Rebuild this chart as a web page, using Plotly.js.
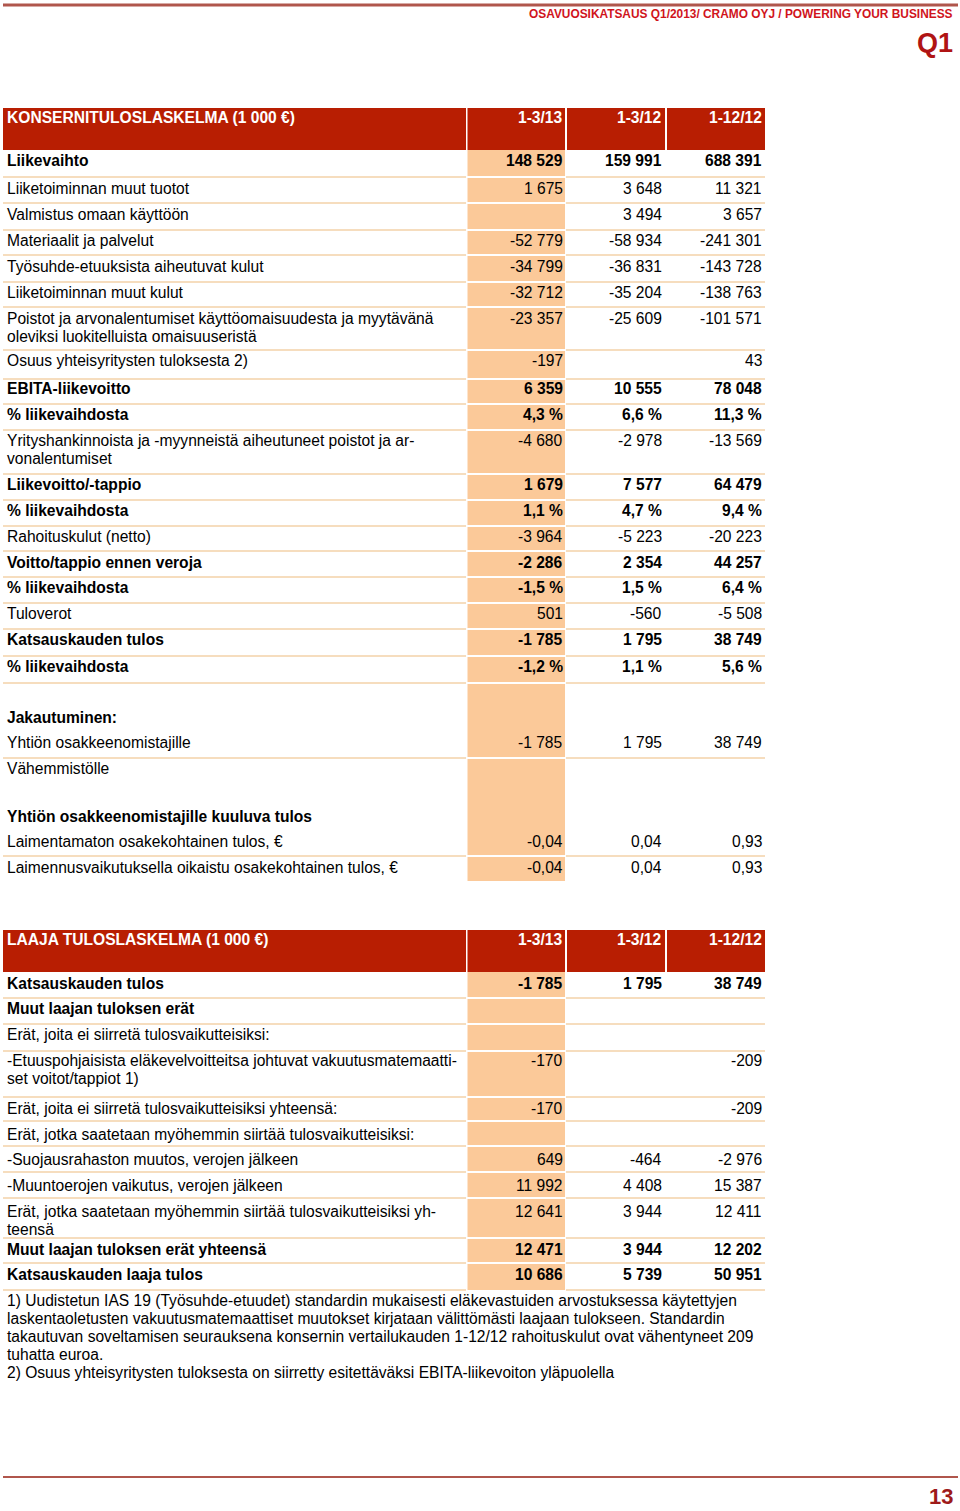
<!DOCTYPE html>
<html><head><meta charset="utf-8">
<script src="https://cdn.plot.ly/plotly-3.0.1.min.js"></script>
<style>html,body{margin:0;padding:0;background:#fff}#chart{width:960px;height:1511px}</style>
</head><body><div id="chart"></div>
<script>
// ---------- DATA ----------
const pageHeader = "OSAVUOSIKATSAUS Q1/2013/ CRAMO OYJ / POWERING YOUR BUSINESS";
const pageTag = "Q1";
const pageNumber = "13";
const header1 = "KONSERNITULOSLASKELMA (1 000 €)";
const header2 = "LAAJA TULOSLASKELMA (1 000 €)";
const periods = ["1-3/13", "1-3/12", "1-12/12"];

const t1Label = ["Liikevaihto","Liiketoiminnan muut tuotot","Valmistus omaan käyttöön","Materiaalit ja palvelut","Työsuhde-etuuksista aiheutuvat kulut","Liiketoiminnan muut kulut","Poistot ja arvonalentumiset käyttöomaisuudesta ja myytävänä","oleviksi luokitelluista omaisuuseristä","Osuus yhteisyritysten tuloksesta 2)","EBITA-liikevoitto","% liikevaihdosta","Yrityshankinnoista ja -myynneistä aiheutuneet poistot ja ar-","vonalentumiset","Liikevoitto/-tappio","% liikevaihdosta","Rahoituskulut (netto)","Voitto/tappio ennen veroja","% liikevaihdosta","Tuloverot","Katsauskauden tulos","% liikevaihdosta","Jakautuminen:","Yhtiön osakkeenomistajille","Vähemmistölle","Yhtiön osakkeenomistajille kuuluva tulos","Laimentamaton osakekohtainen tulos, €","Laimennusvaikutuksella oikaistu osakekohtainen tulos, €"];
const t1Q113 = ["148 529","1 675","","-52 779","-34 799","-32 712","-23 357","","-197","6 359","4,3 %","-4 680","","1 679","1,1 %","-3 964","-2 286","-1,5 %","501","-1 785","-1,2 %","","-1 785","","","-0,04","-0,04"];
const t1Q112 = ["159 991","3 648","3 494","-58 934","-36 831","-35 204","-25 609","","","10 555","6,6 %","-2 978","","7 577","4,7 %","-5 223","2 354","1,5 %","-560","1 795","1,1 %","","1 795","","","0,04","0,04"];
const t1FY12 = ["688 391","11 321","3 657","-241 301","-143 728","-138 763","-101 571","","43","78 048","11,3 %","-13 569","","64 479","9,4 %","-20 223","44 257","6,4 %","-5 508","38 749","5,6 %","","38 749","","","0,93","0,93"];
const t1Bold = [1,0,0,0,0,0,0,0,0,1,1,0,0,1,1,0,1,1,0,1,1,1,0,0,1,0,0];

const t2Label = ["Katsauskauden tulos","Muut laajan tuloksen erät","Erät, joita ei siirretä tulosvaikutteisiksi:","-Etuuspohjaisista eläkevelvoitteitsa johtuvat vakuutusmatemaatti-","set voitot/tappiot 1)","Erät, joita ei siirretä tulosvaikutteisiksi yhteensä:","Erät, jotka saatetaan myöhemmin siirtää tulosvaikutteisiksi:","-Suojausrahaston muutos, verojen jälkeen","-Muuntoerojen vaikutus, verojen jälkeen","Erät, jotka saatetaan myöhemmin siirtää tulosvaikutteisiksi yh-","teensä","Muut laajan tuloksen erät yhteensä","Katsauskauden laaja tulos"];
const t2Q113 = ["-1 785","","","-170","","-170","","649","11 992","12 641","","12 471","10 686"];
const t2Q112 = ["1 795","","","","","","","-464","4 408","3 944","","3 944","5 739"];
const t2FY12 = ["38 749","","","-209","","-209","","-2 976","15 387","12 411","","12 202","50 951"];
const t2Bold = [1,1,0,0,0,0,0,0,0,0,0,1,1];

const footnotes = ["1) Uudistetun IAS 19 (Työsuhde-etuudet) standardin mukaisesti eläkevastuiden arvostuksessa käytettyjen","laskentaoletusten vakuutusmatemaattiset muutokset kirjataan välittömästi laajaan tulokseen. Standardin","takautuvan soveltamisen seurauksena konsernin vertailukauden 1-12/12 rahoituskulut ovat vähentyneet 209","tuhatta euroa.","2) Osuus yhteisyritysten tuloksesta on siirretty esitettäväksi EBITA-liikevoiton yläpuolella"];

// ---------- LAYOUT (positions / styles) ----------
const RED = "#B81E02", ORANGE = "#FBC999", LINE = "#F6DDBE";
const FONT = "Liberation Sans, Arial, Helvetica, sans-serif";
const FS = 15.6;
const colRight = [563, 662, 762];
const labelX = 7;
const t1 = {top:108, head:150, bottom:881,
  lineY:[160,188,214,240,266,292,318,336,360,388,414,440,458,484,510,536,562,587,613,639,666,717,742,768,816,841,867],
  seps:[177,203,230,255,282,307,350,379,404,430,474,500,526,551,577,603,629,656,683,758,856]};
const t2 = {top:930, head:972, bottom:1290,
  lineY:[983,1008,1034,1060,1078,1108,1134,1159,1185,1211,1229,1249,1274],
  seps:[998,1024,1051,1097,1121,1146,1172,1198,1238,1263,1290]};
const footY0 = 1300, footStep = 18;
const DY = 0.5; // text vertical tweak

const shapes = [], ann = [];
function rect(x0,x1,y0,y1,color){shapes.push({type:"rect",xref:"x",yref:"y",x0,x1,y0,y1,fillcolor:color,line:{width:0},layer:"below"});}
function hline(x0,x1,y,color,w){shapes.push({type:"line",xref:"x",yref:"y",x0,x1,y0:y,y1:y,line:{color,width:w}});}
function txt(x,y,text,opt){ann.push(Object.assign({x,y:y+DY,xref:"x",yref:"y",text,showarrow:false,xanchor:"left",yanchor:"middle",borderpad:0,borderwidth:0,font:{family:FONT,size:FS,color:"#000"}},opt||{}));}

function table(t, header, labels, c1, c2, c3, bold){
  rect(3,466,t.top,t.head,RED);
  rect(467.5,565,t.top,t.head,RED);
  rect(567,665,t.top,t.head,RED);
  rect(667,765,t.top,t.head,RED);
  const hf = {family:FONT,size:FS,color:"#fff",weight:"bold"};
  txt(labelX,t.top+9,header,{font:hf});
  periods.forEach((p,i)=>txt(colRight[i],t.top+9,p,{xanchor:"right",font:hf}));
  rect(467.5,565,t.head,t.bottom,ORANGE);
  t.seps.forEach(y=>{
    hline(3,466,y,LINE,2);
    hline(566,765,y,LINE,2);
    if (y < t.bottom) hline(466,566,y,"#fff",2);
  });
  labels.forEach((lab,i)=>{
    const f = {family:FONT,size:FS,color:"#000",weight:bold[i] ? "bold" : "normal"};
    txt(labelX,t.lineY[i],lab,{font:f});
    [c1,c2,c3].forEach((col,k)=>{ if(col[i]) txt(colRight[k],t.lineY[i],col[i],{xanchor:"right",font:f}); });
  });
}
table(t1, header1, t1Label, t1Q113, t1Q112, t1FY12, t1Bold);
table(t2, header2, t2Label, t2Q113, t2Q112, t2FY12, t2Bold);
footnotes.forEach((f,i)=>txt(labelX,footY0+i*footStep,f));

// page decorations
hline(3,958,5,"#B0564C",3);
hline(3,958,1477,"#B0564C",2);
txt(953,13.5,pageHeader,{xanchor:"right",font:{family:FONT,size:11.9,color:"#D0141C",weight:"bold"}});
txt(953,42,pageTag,{xanchor:"right",font:{family:FONT,size:27,color:"#B01414",weight:"bold"}});
txt(953,1496,pageNumber,{xanchor:"right",font:{family:FONT,size:22,color:"#9E1A1A",weight:"bold"}});

const layout = {
  width:960, height:1511, margin:{l:0,r:0,t:0,b:0},
  paper_bgcolor:"#fff", plot_bgcolor:"#fff", showlegend:false,
  xaxis:{range:[0,960],visible:false,fixedrange:true},
  yaxis:{range:[1511,0],visible:false,fixedrange:true},
  shapes, annotations:ann
};
Plotly.newPlot("chart",[{x:[0],y:[0],mode:"markers",marker:{opacity:0},hoverinfo:"skip"}],layout,{staticPlot:true,displayModeBar:false});
</script></body></html>
